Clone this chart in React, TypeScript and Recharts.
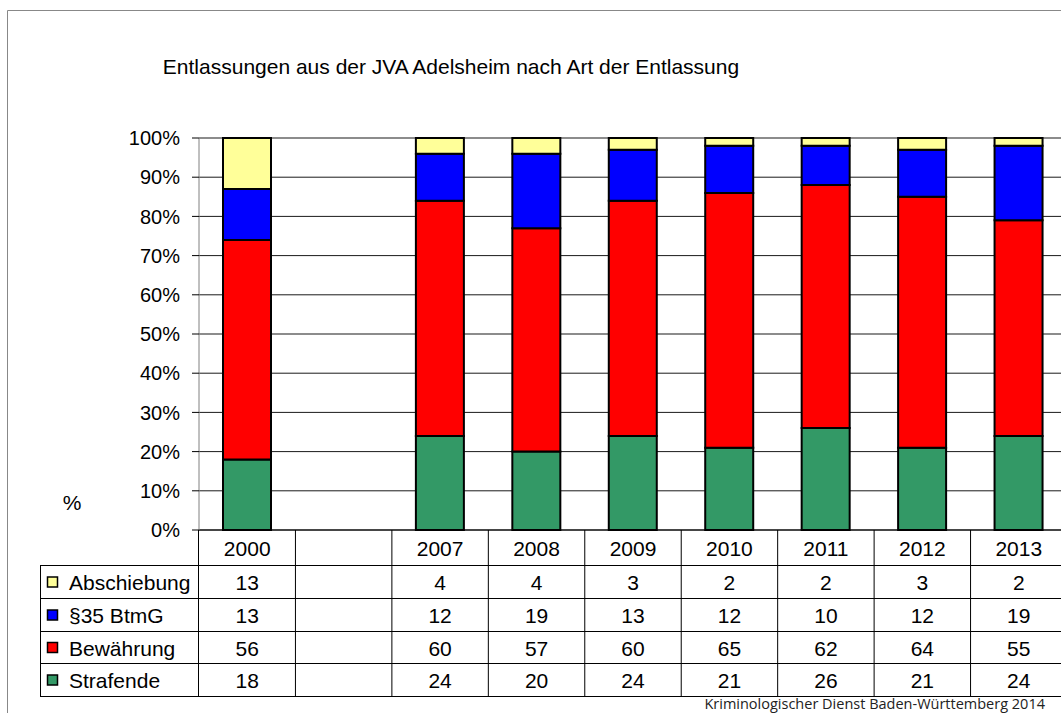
import { Bar, BarChart, CartesianGrid, XAxis, YAxis } from 'recharts'

// Categories and series values (percent per year)
const years = ['2000', ' ', '2007', '2008', '2009', '2010', '2011', '2012', '2013']
const strafende = [18, null, 24, 20, 24, 21, 26, 21, 24]
const bewaehrung = [56, null, 60, 57, 60, 65, 62, 64, 55]
const btmg = [13, null, 12, 19, 13, 12, 10, 12, 19]
const abschiebung = [13, null, 4, 4, 3, 2, 2, 3, 2]
const yTicks = [0, 10, 20, 30, 40, 50, 60, 70, 80, 90, 100]

const series = [
    { key: 'abschiebung', name: 'Abschiebung', color: '#FFFF99', values: abschiebung },
    { key: 'btmg', name: '§35 BtmG', color: '#0000FF', values: btmg },
    { key: 'bewaehrung', name: 'Bewährung', color: '#FF0000', values: bewaehrung },
    { key: 'strafende', name: 'Strafende', color: '#339966', values: strafende },
]

const chartData = years.map((year, i) => ({
    year,
    strafende: strafende[i],
    bewaehrung: bewaehrung[i],
    btmg: btmg[i],
    abschiebung: abschiebung[i],
}))

// layout
const W = 1080
const H = 713
const PLOT_LEFT = 199
const PLOT_RIGHT = 1067
const PLOT_TOP = 138
const PLOT_BOTTOM = 530
const Y_AXIS_W = 60
const X_AXIS_H = 166
const BAND = (PLOT_RIGHT - PLOT_LEFT) / years.length
const ROW_LINES = [565, 598, 631, 663, 696]
const FONT = 'Arial, "Liberation Sans", sans-serif'
const TABLE_FS = 21

function TableTick(props: any) {
    const { x, payload } = props
    const i = payload.index
    const right = x + BAND / 2
    return (
        <g>
            <line x1={right} y1={PLOT_BOTTOM} x2={right} y2={696} stroke='#000' />
            <text x={x} y={548} textAnchor='middle' dominantBaseline='central' fontSize={TABLE_FS} fontFamily={FONT} fill='#000'>
                {years[i].trim()}
            </text>
            {series.map((s, r) => (
                <text
                    key={s.key}
                    x={x}
                    y={(ROW_LINES[r] + ROW_LINES[r + 1]) / 2 + 1}
                    textAnchor='middle'
                    dominantBaseline='central'
                    fontSize={TABLE_FS}
                    fontFamily={FONT}
                    fill='#000'
                >
                    {s.values[i] ?? ''}
                </text>
            ))}
        </g>
    )
}

export default function App() {
    return (
        <div style={{ position: 'absolute', left: 0, top: 0, width: 1061, height: 713, overflow: 'hidden', background: '#fff' }}>
            <BarChart
                width={W}
                height={H}
                data={chartData}
                barSize={48}
                margin={{ top: PLOT_TOP, left: PLOT_LEFT - Y_AXIS_W, right: W - PLOT_RIGHT, bottom: H - PLOT_BOTTOM - X_AXIS_H }}
            >
                <CartesianGrid vertical={false} stroke='#000' strokeOpacity={0.9} />
                <XAxis
                    dataKey='year'
                    height={X_AXIS_H}
                    axisLine={{ stroke: '#000' }}
                    tickLine={false}
                    interval={0}
                    tick={<TableTick />}
                />
                <YAxis
                    width={Y_AXIS_W}
                    domain={[0, 100]}
                    ticks={yTicks}
                    tickFormatter={(v) => `${v}%`}
                    axisLine={{ stroke: '#808080' }}
                    tickLine={{ stroke: '#000' }}
                    tickSize={7}
                    tickMargin={12}
                    tick={{ fontSize: 20, fontFamily: FONT, fill: '#000' }}
                />
                <Bar dataKey='strafende' stackId='a' fill='#339966' stroke='#000' strokeWidth={2} isAnimationActive={false} />
                <Bar dataKey='bewaehrung' stackId='a' fill='#FF0000' stroke='#000' strokeWidth={2} isAnimationActive={false} />
                <Bar dataKey='btmg' stackId='a' fill='#0000FF' stroke='#000' strokeWidth={2} isAnimationActive={false} />
                <Bar dataKey='abschiebung' stackId='a' fill='#FFFF99' stroke='#000' strokeWidth={2} isAnimationActive={false} />
            </BarChart>
            <svg width={1061} height={713} style={{ position: 'absolute', left: 0, top: 0, pointerEvents: 'none' }}>
                {/* frame */}
                <line x1={7.5} y1={10.5} x2={1061} y2={10.5} stroke='#888' />
                <line x1={7.5} y1={10.5} x2={7.5} y2={713} stroke='#888' />
                <text x={451} y={74} textAnchor='middle' fontSize={21} fontFamily={FONT} fill='#000'>
                    Entlassungen aus der JVA Adelsheim nach Art der Entlassung
                </text>
                <text x={72} y={502} textAnchor='middle' dominantBaseline='central' fontSize={21} fontFamily={FONT} fill='#000'>
                    %
                </text>
                {/* legend column of the data table */}
                {ROW_LINES.map((y) => (
                    <line key={y} x1={40} y1={y + 0.5} x2={1061} y2={y + 0.5} stroke='#000' />
                ))}
                <line x1={40.5} y1={565} x2={40.5} y2={696} stroke='#000' />
                <line x1={PLOT_LEFT - 0.5} y1={PLOT_BOTTOM} x2={PLOT_LEFT - 0.5} y2={696} stroke='#000' />
                {series.map((s, r) => {
                    const cy = (ROW_LINES[r] + ROW_LINES[r + 1]) / 2 + 1
                    return (
                        <g key={s.key}>
                            <rect x={47.5} y={cy - 5.5} width={10} height={10} fill={s.color} stroke='#000' strokeWidth={1.5} />
                            <text x={69} y={cy} dominantBaseline='central' fontSize={TABLE_FS} fontFamily={FONT} fill='#000'>
                                {s.name}
                            </text>
                        </g>
                    )
                })}
                <text x={1045} y={709} textAnchor='end' fontSize={14.5} fontFamily='"Open Sans", "Noto Sans", sans-serif' fill='#222'>
                    Kriminologischer Dienst Baden-Württemberg 2014
                </text>
            </svg>
        </div>
    )
}
